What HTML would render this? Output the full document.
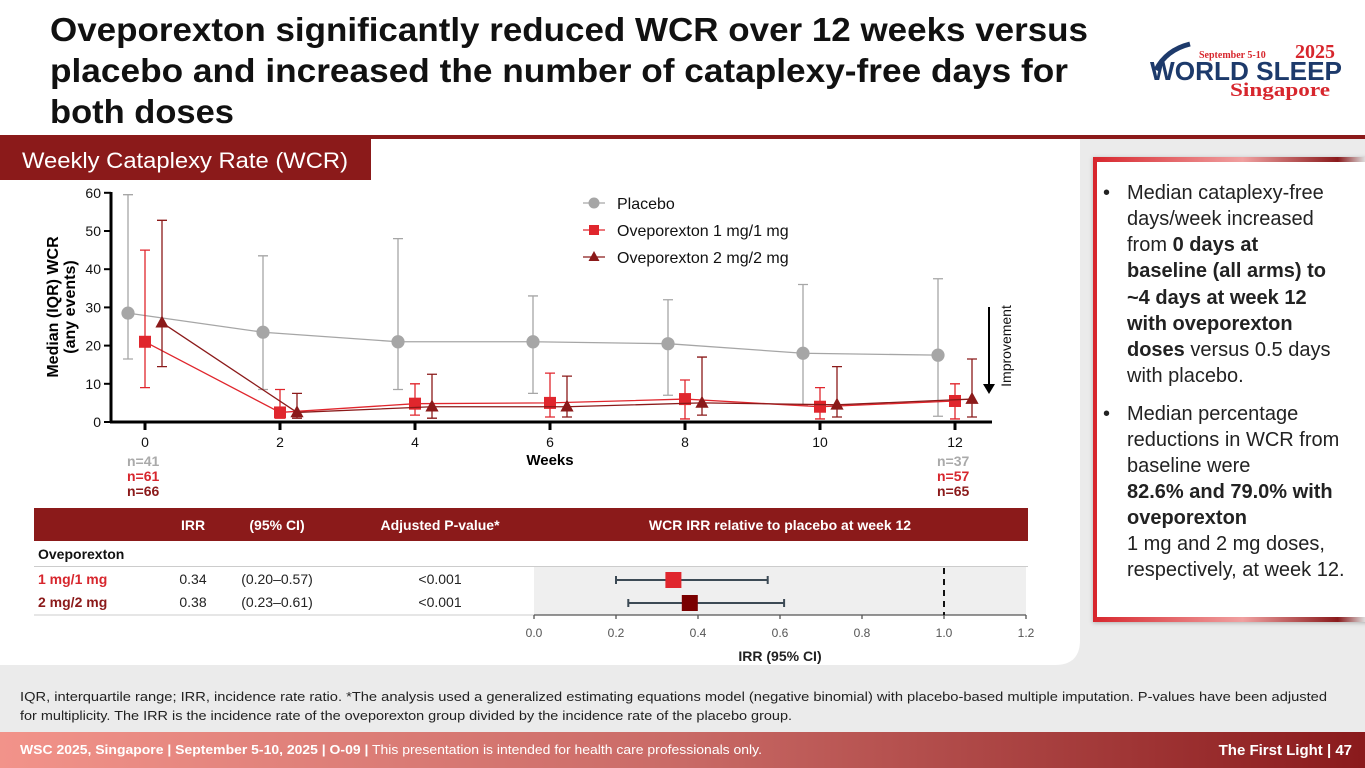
<!DOCTYPE html>
<html><head><meta charset="utf-8"><style>
html,body{margin:0;padding:0;background:#ebebeb;}
svg{display:block;font-family:"Liberation Sans",sans-serif;}
</style></head><body>
<svg id="slide" width="1365" height="768" viewBox="0 0 1365 768" xmlns="http://www.w3.org/2000/svg">
<defs>
<linearGradient id="footGrad" x1="0" x2="1" y1="0" y2="0"><stop offset="0" stop-color="#f2938a"/><stop offset="0.5" stop-color="#c96a66"/><stop offset="1" stop-color="#8a1a1c"/></linearGradient>
<linearGradient id="boxGrad" x1="0" x2="1" y1="0" y2="0"><stop offset="0" stop-color="#d7262d"/><stop offset="0.55" stop-color="#f0a0a0"/><stop offset="0.9" stop-color="#8a1a1c"/><stop offset="1" stop-color="#ddd"/></linearGradient>
<filter id="sh" x="-5%" y="-5%" width="110%" height="110%"><feDropShadow dx="0" dy="1" stdDeviation="2" flood-opacity="0.25"/></filter>
</defs>
<rect x="0" y="0" width="1365" height="768" fill="#ebebeb"/>
<rect x="0" y="0" width="1365" height="137" fill="#ffffff"/>
<path d="M0 139 H1080 V640 Q1080 665 1055 665 H0 Z" fill="#ffffff"/>
<rect x="0" y="135" width="1365" height="4" fill="#8b1a1a"/>
<g font-weight="bold" font-size="33" fill="#111">
<text x="50" y="41" textLength="1038" lengthAdjust="spacingAndGlyphs">Oveporexton significantly reduced WCR over 12 weeks versus</text>
<text x="50" y="82" textLength="1018" lengthAdjust="spacingAndGlyphs">placebo and increased the number of cataplexy-free days for</text>
<text x="50" y="123" textLength="184" lengthAdjust="spacingAndGlyphs">both doses</text>
</g>
<g>
<path d="M1156 70 Q1166 50 1190 44" stroke="#1d3a6b" stroke-width="5" fill="none"/>
<text x="1199" y="58" font-family="Liberation Serif,serif" font-weight="bold" font-size="10" fill="#d7262d">September 5-10</text>
<text x="1295" y="58" font-family="Liberation Serif,serif" font-weight="bold" font-size="20" fill="#d7262d">2025</text>
<text x="1150" y="80" font-weight="bold" font-size="26" fill="#1d3a6b" textLength="192" lengthAdjust="spacingAndGlyphs">WORLD SLEEP</text>
<text x="1230" y="96" font-family="Liberation Serif,serif" font-weight="bold" font-size="19" fill="#d7262d" textLength="100" lengthAdjust="spacingAndGlyphs">Singapore</text>
</g>
<rect x="0" y="139" width="371" height="41" fill="#8b1a1a"/>
<text x="22" y="168" font-size="22" fill="#fff" textLength="326" lengthAdjust="spacingAndGlyphs">Weekly Cataplexy Rate (WCR)</text>

<g id="chart"></g>

<g>
<rect x="1093" y="157" width="280" height="465" fill="#fff" filter="url(#sh)"/>
<rect x="1093" y="157" width="4" height="465" fill="#d7262d"/>
<rect x="1093" y="157" width="272" height="5" fill="url(#boxGrad)"/>
<rect x="1093" y="617" width="272" height="5" fill="url(#boxGrad)"/>
<g font-size="20" fill="#222">
<text x="1103" y="199">•</text>
<text x="1127" y="199">Median cataplexy-free</text>
<text x="1127" y="225">days/week increased</text>
<text x="1127" y="251">from <tspan font-weight="bold">0 days at</tspan></text>
<text x="1127" y="277" font-weight="bold">baseline (all arms) to</text>
<text x="1127" y="304" font-weight="bold">~4 days at week 12</text>
<text x="1127" y="330" font-weight="bold">with oveporexton</text>
<text x="1127" y="356"><tspan font-weight="bold">doses</tspan> versus 0.5 days</text>
<text x="1127" y="382">with placebo.</text>
<text x="1103" y="420">•</text>
<text x="1127" y="420">Median percentage</text>
<text x="1127" y="446">reductions in WCR from</text>
<text x="1127" y="472">baseline were</text>
<text x="1127" y="498" font-weight="bold">82.6% and 79.0% with</text>
<text x="1127" y="524" font-weight="bold">oveporexton</text>
<text x="1127" y="550">1 mg and 2 mg doses,</text>
<text x="1127" y="576">respectively, at week 12.</text>
</g>
</g>

<g>
<rect x="34" y="508" width="994" height="33" fill="#8b1a1a"/>
<g font-size="14" font-weight="bold" fill="#fff" text-anchor="middle">
<text x="193" y="530">IRR</text><text x="277" y="530">(95% CI)</text><text x="440" y="530">Adjusted P-value*</text><text x="780" y="530">WCR IRR relative to placebo at week 12</text>
</g>
<text x="38" y="559" font-size="14" font-weight="bold" fill="#111">Oveporexton</text>
<line x1="34" x2="1028" y1="566.5" y2="566.5" stroke="#ccc"/>
<rect x="534" y="567" width="492" height="48" fill="#efefef"/>
<line x1="34" x2="534" y1="615" y2="615" stroke="#ccc"/>
<g font-size="14" fill="#222">
<text x="38" y="584" font-weight="bold" fill="#d7262d">1 mg/1 mg</text>
<text x="38" y="607" font-weight="bold" fill="#8b1a1a">2 mg/2 mg</text>
<text x="193" y="584" text-anchor="middle">0.34</text><text x="277" y="584" text-anchor="middle">(0.20–0.57)</text><text x="440" y="584" text-anchor="middle">&lt;0.001</text>
<text x="193" y="607" text-anchor="middle">0.38</text><text x="277" y="607" text-anchor="middle">(0.23–0.61)</text><text x="440" y="607" text-anchor="middle">&lt;0.001</text>
</g>
<g id="forest"></g>
</g>

<g font-size="13" fill="#222">
<text x="20" y="701" textLength="1307" lengthAdjust="spacingAndGlyphs">IQR, interquartile range; IRR, incidence rate ratio. *The analysis used a generalized estimating equations model (negative binomial) with placebo-based multiple imputation. P-values have been adjusted</text>
<text x="20" y="720" textLength="772" lengthAdjust="spacingAndGlyphs">for multiplicity. The IRR is the incidence rate of the oveporexton group divided by the incidence rate of the placebo group.</text>
</g>
<rect x="0" y="732" width="1365" height="36" fill="url(#footGrad)"/>
<text x="20" y="754" font-size="12.5" fill="#fff" textLength="742" lengthAdjust="spacingAndGlyphs"><tspan font-weight="bold">WSC 2025, Singapore  |  September 5-10, 2025  |  O-09  |</tspan> This presentation is intended for health care professionals only.</text>
<text x="1352" y="755" font-size="15" font-weight="bold" fill="#fff" text-anchor="end">The First Light  |  47</text>
</svg>
<script>
const weeks = [0, 2, 4, 6, 8, 10, 12];
const placeboMed = [28.5, 23.5, 21, 21, 20.5, 18, 17.5];
const placeboQ1 = [16.5, 8.5, 8.5, 7.5, 7, 4.5, 1.5];
const placeboQ3 = [59.5, 43.5, 48, 33, 32, 36, 37.5];
const dose1Med = [21, 2.5, 4.8, 5, 6, 4, 5.5];
const dose1Q1 = [9, 1, 1.8, 1.3, 0.8, 0.8, 0.8];
const dose1Q3 = [45, 8.5, 10, 12.8, 11, 9, 10];
const dose2Med = [26, 2.5, 4, 4, 5, 4.5, 6];
const dose2Q1 = [14.5, 1, 1, 1.3, 1.8, 1.3, 1.3];
const dose2Q3 = [52.8, 7.5, 12.5, 12, 17, 14.5, 16.5];
const yTicks = [0, 10, 20, 30, 40, 50, 60];
const xTicks = [0, 2, 4, 6, 8, 10, 12];
const forestLabels = ['1 mg/1 mg', '2 mg/2 mg'];
const forestIRR = [0.34, 0.38];
const forestLo = [0.20, 0.23];
const forestHi = [0.57, 0.61];
const forestTicks = [0.0, 0.2, 0.4, 0.6, 0.8, 1.0, 1.2];

const NS = 'http://www.w3.org/2000/svg';
function mk(parent, tag, attrs, txt) {
  const e = document.createElementNS(NS, tag);
  for (const k in attrs) e.setAttribute(k, attrs[k]);
  if (txt !== undefined) e.textContent = txt;
  parent.appendChild(e);
  return e;
}
const xs = w => 145 + w * 67.5;
const ys = v => 422 - v * 3.82;
const g = document.getElementById('chart');

let ax = mk(g, 'line', {x1: 111, x2: 111, y1: 192, y2: 423, stroke: '#000', 'stroke-width': 3});


let bx = mk(g, 'line', {x1: 110, x2: 992, y1: 422, y2: 422, stroke: '#000', 'stroke-width': 3});


yTicks.forEach(t => {
  mk(g, 'line', {x1: 104, x2: 111, y1: ys(t), y2: ys(t), stroke: '#000', 'stroke-width': 2});
  const tl = mk(g, 'text', {x: 101, y: ys(t) + 5, 'text-anchor': 'end', 'font-size': 14, fill: '#111'}, t);
  
  
});
xTicks.forEach(t => {
  mk(g, 'line', {x1: xs(t), x2: xs(t), y1: 422, y2: 430, stroke: '#000', 'stroke-width': 3});
  const tl = mk(g, 'text', {x: xs(t), y: 447, 'text-anchor': 'middle', 'font-size': 14, fill: '#111'}, t);
  
  
});
let xt = mk(g, 'text', {x: 550, y: 465, 'text-anchor': 'middle', 'font-size': 15, 'font-weight': 'bold'}, 'Weeks');


let yt = mk(g, 'text', {transform: 'translate(58,307) rotate(-90)', 'text-anchor': 'middle', 'font-size': 16, 'font-weight': 'bold'}, 'Median (IQR) WCR');


let yt2 = mk(g, 'text', {transform: 'translate(75,307) rotate(-90)', 'text-anchor': 'middle', 'font-size': 16, 'font-weight': 'bold'}, '(any events)');



[['n=41', '#aaa'], ['n=61', '#d7262d'], ['n=66', '#8b1a1a']].forEach((n, i) => {
  const a = mk(g, 'text', {x: 127, y: 466 + i * 15, 'font-size': 14, 'font-weight': 'bold', fill: n[1]}, n[0]);
  
  
});
[['n=37', '#aaa'], ['n=57', '#d7262d'], ['n=65', '#8b1a1a']].forEach((n, i) => {
  const a = mk(g, 'text', {x: 937, y: 466 + i * 15, 'font-size': 14, 'font-weight': 'bold', fill: n[1]}, n[0]);
  
  
});

const series = [
  {name: 'placebo', med: placeboMed, q1: placeboQ1, q3: placeboQ3, off: -17, color: '#a6a6a6', shape: 'circle'},
  {name: 'dose-1mg', med: dose1Med, q1: dose1Q1, q3: dose1Q3, off: 0, color: '#e0262d', shape: 'square'},
  {name: 'dose-2mg', med: dose2Med, q1: dose2Q1, q3: dose2Q3, off: 17, color: '#8b1a1a', shape: 'triangle'}
];
function marker(parent, shape, cx, cy, color, s) {
  let m;
  if (shape === 'circle') m = mk(parent, 'circle', {cx: cx, cy: cy, r: s * 0.55, fill: color});
  else if (shape === 'square') m = mk(parent, 'rect', {x: cx - s / 2, y: cy - s / 2, width: s, height: s, fill: color});
  else m = mk(parent, 'polygon', {points: `${cx},${cy - s * 0.6} ${cx - s * 0.55},${cy + s * 0.4} ${cx + s * 0.55},${cy + s * 0.4}`, fill: color});
  return m;
}
series.forEach(s => {
  const sg = mk(g, 'g', {});
  
  
  const pts = weeks.map((w, i) => `${xs(w) + s.off},${ys(s.med[i])}`).join(' ');
  const pl = mk(sg, 'polyline', {points: pts, fill: 'none', stroke: s.color, 'stroke-width': 1.3});
  
  
  weeks.forEach((w, i) => {
    const x = xs(w) + s.off;
    const eb = mk(sg, 'path', {d: `M${x},${ys(s.q1[i])}V${ys(s.q3[i])}M${x - 5},${ys(s.q1[i])}H${x + 5}M${x - 5},${ys(s.q3[i])}H${x + 5}`, stroke: s.color, 'stroke-width': 1.3, fill: 'none'});
    
    
    const m = marker(sg, s.shape, x, ys(s.med[i]), s.color, 12);
    
    
  });
});

const legNames = ['Placebo', 'Oveporexton 1 mg/1 mg', 'Oveporexton 2 mg/2 mg'];
series.forEach((s, i) => {
  const y = 203 + i * 27;
  const lg = mk(g, 'g', {});
  
  
  mk(lg, 'line', {x1: 583, x2: 605, y1: y, y2: y, stroke: s.color, 'stroke-width': 1.3});
  marker(lg, s.shape, 594, y, s.color, 10);
  mk(lg, 'text', {x: 617, y: y + 6, 'font-size': 16, fill: '#111'}, legNames[i]);
});

const ia = mk(g, 'g', {});


mk(ia, 'line', {x1: 989, x2: 989, y1: 307, y2: 385, stroke: '#000', 'stroke-width': 2});
mk(ia, 'polygon', {points: '983,384 995,384 989,394', fill: '#000'});
mk(ia, 'text', {transform: 'translate(1011,346) rotate(-90)', 'text-anchor': 'middle', 'font-size': 14, fill: '#111'}, 'Improvement');

const fx = v => 534 + v * 410;
const fg = document.getElementById('forest');
const fax = mk(fg, 'line', {x1: 534, x2: 1026, y1: 615, y2: 615, stroke: '#555', 'stroke-width': 1.3});


forestTicks.forEach(t => {
  mk(fg, 'line', {x1: fx(t), x2: fx(t), y1: 615, y2: 619, stroke: '#555', 'stroke-width': 1.3});
  const tl = mk(fg, 'text', {x: fx(t), y: 637, 'text-anchor': 'middle', 'font-size': 12, fill: '#555'}, t.toFixed(1));
  
  
});
const ref = mk(fg, 'line', {x1: fx(1), x2: fx(1), y1: 568, y2: 615, stroke: '#111', 'stroke-width': 2, 'stroke-dasharray': '6,5'});


const fcol = ['#e0262d', '#7a0000'];
forestIRR.forEach((v, i) => {
  const y = 580 + i * 23;
  const ci = mk(fg, 'path', {d: `M${fx(forestLo[i])},${y}H${fx(forestHi[i])}M${fx(forestLo[i])},${y - 4}V${y + 4}M${fx(forestHi[i])},${y - 4}V${y + 4}`, stroke: '#3c4a55', 'stroke-width': 2, fill: 'none'});
  
  
  const sq = mk(fg, 'rect', {x: fx(v) - 8, y: y - 8, width: 16, height: 16, fill: fcol[i]});
  
  
});
const ft = mk(fg, 'text', {x: 780, y: 661, 'text-anchor': 'middle', 'font-size': 14, 'font-weight': 'bold', fill: '#222'}, 'IRR (95% CI)');


</script>
</body></html>
